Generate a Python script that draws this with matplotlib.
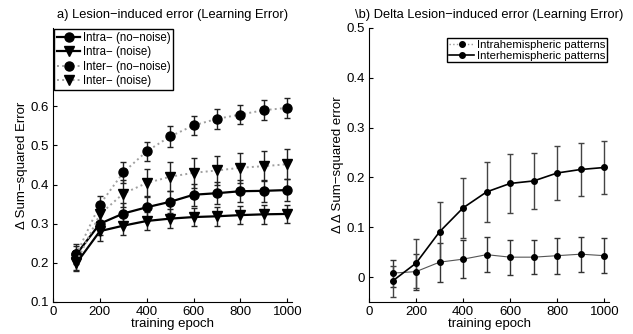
import matplotlib
matplotlib.use("Agg")
import matplotlib.pyplot as plt
from matplotlib.ticker import FuncFormatter

plt.rcParams['font.family'] = ['Liberation Sans', 'DejaVu Sans']

epochs = [100, 200, 300, 400, 500, 600, 700, 800, 900, 1000]

# Panel a
intra_nonoise = [0.222, 0.300, 0.326, 0.342, 0.356, 0.374, 0.378, 0.383, 0.384, 0.386]
intra_nonoise_err = [0.025, 0.028, 0.028, 0.028, 0.028, 0.028, 0.028, 0.028, 0.028, 0.028]
intra_noise = [0.199, 0.281, 0.295, 0.307, 0.313, 0.317, 0.319, 0.322, 0.324, 0.325]
intra_noise_err = [0.02, 0.024, 0.024, 0.024, 0.024, 0.024, 0.024, 0.024, 0.024, 0.024]
inter_nonoise = [0.222, 0.349, 0.431, 0.485, 0.523, 0.551, 0.568, 0.579, 0.590, 0.596]
inter_nonoise_err = [0.02, 0.022, 0.027, 0.025, 0.027, 0.025, 0.025, 0.025, 0.025, 0.025]
inter_noise = [0.203, 0.324, 0.377, 0.404, 0.420, 0.430, 0.436, 0.443, 0.447, 0.452]
inter_noise_err = [0.02, 0.03, 0.035, 0.037, 0.037, 0.038, 0.038, 0.038, 0.038, 0.039]

# Panel b
delta_intra = [0.008, 0.011, 0.030, 0.036, 0.045, 0.040, 0.040, 0.043, 0.046, 0.043]
delta_intra_err = [0.027, 0.036, 0.039, 0.038, 0.035, 0.035, 0.034, 0.036, 0.035, 0.035]
delta_inter = [-0.008, 0.028, 0.091, 0.139, 0.171, 0.188, 0.193, 0.209, 0.216, 0.220]
delta_inter_err = [0.031, 0.049, 0.059, 0.060, 0.060, 0.059, 0.057, 0.054, 0.054, 0.053]

xticks = [0, 200, 400, 600, 800, 1000]

fig = plt.figure(figsize=(6.33, 3.34), dpi=100)
axA = fig.add_axes([53/633, 32/334, 239/633, 274/334])
axB = fig.add_axes([369/633, 32/334, 240/633, 274/334])

def style(ax):
    ax.spines['top'].set_visible(False)
    ax.spines['right'].set_visible(False)
    ax.tick_params(direction='in', length=3, labelsize=9.5, width=0.8, pad=3)
    ax.set_xticks(xticks)
    ax.set_xlim(0, 1020)

fmt = FuncFormatter(lambda v, p: ('%g' % round(v, 3)))

# Panel A
series = [
    (intra_nonoise, intra_nonoise_err, 'o', '-', 'black', 1.6, 'Intra\u2212 (no\u2212noise)'),
    (intra_noise, intra_noise_err, 'v', '-', 'black', 1.6, 'Intra\u2212 (noise)'),
    (inter_nonoise, inter_nonoise_err, 'o', ':', '#a0a0a0', 1.4, 'Inter\u2212 (no\u2212noise)'),
    (inter_noise, inter_noise_err, 'v', ':', '#a0a0a0', 1.4, 'Inter\u2212 (noise)'),
]
handles = []
for vals, errs, mk, ls, col, lw, lab in series:
    axA.errorbar(epochs, vals, yerr=errs, fmt='none', ecolor='#222222', elinewidth=1.0, capsize=2, capthick=1.0, zorder=2)
    h, = axA.plot(epochs, vals, linestyle=ls, color=col, linewidth=lw, marker=mk,
                  markersize=6.5, markerfacecolor='black', markeredgecolor='black', label=lab, zorder=3)
    handles.append(h)
style(axA)
axA.set_ylim(0.1, 0.8)
axA.set_yticks([0.1, 0.2, 0.3, 0.4, 0.5, 0.6])
axA.yaxis.set_major_formatter(fmt)
axA.set_xlabel('training epoch', fontsize=9.5, labelpad=0)
axA.set_ylabel('\u0394 Sum\u2212squared Error', fontsize=9.5, labelpad=2)
axA.set_title('a) Lesion\u2212induced error (Learning Error)', fontsize=9.3, pad=7)
legA = axA.legend(handles=handles, loc='upper left', fontsize=8.3, frameon=True, fancybox=False,
                  edgecolor='black', borderpad=0.25, handlelength=2.0, handletextpad=0.25,
                  labelspacing=0.2, borderaxespad=0.1, framealpha=1)
legA.get_frame().set_linewidth(1.0)

# Panel B
axB.errorbar(epochs, delta_intra, yerr=delta_intra_err, fmt='none', ecolor='#333333', elinewidth=1.0, capsize=2, capthick=1.0, zorder=2)
axB.errorbar(epochs, delta_inter, yerr=delta_inter_err, fmt='none', ecolor='#444444', elinewidth=1.0, capsize=2, capthick=1.0, zorder=2)
axB.plot(epochs, delta_intra, linestyle='-', color='#555555', linewidth=0.8, marker='o', markersize=4,
         markerfacecolor='black', markeredgecolor='black', zorder=3)
h1l, = axB.plot([], [], linestyle=':', color='#999999', linewidth=1.0, marker='o', markersize=4,
                markerfacecolor='black', markeredgecolor='black', label='Intrahemispheric patterns')
h2, = axB.plot(epochs, delta_inter, linestyle='-', color='black', linewidth=1.2, marker='o', markersize=4,
               markerfacecolor='black', markeredgecolor='black', label='Interhemispheric patterns', zorder=3)
style(axB)
axB.set_ylim(-0.05, 0.5)
axB.set_yticks([0, 0.1, 0.2, 0.3, 0.4, 0.5])
axB.yaxis.set_major_formatter(fmt)
axB.set_xlabel('training epoch', fontsize=9.5, labelpad=0)
axB.set_ylabel('\u0394 \u0394 Sum\u2212squared error', fontsize=9.5, labelpad=2)
axB.set_title('\\b) Delta Lesion\u2212induced error (Learning Error)', fontsize=9.3, pad=7)
legB = axB.legend(handles=[h1l, h2], loc='upper right', fontsize=8.2, frameon=True, fancybox=False,
                  edgecolor='black', borderpad=0.15, handlelength=2.2, handletextpad=0.2,
                  labelspacing=0.05, bbox_to_anchor=(0.99, 0.962), borderaxespad=0, framealpha=1)
legB.get_frame().set_linewidth(1.0)

fig.savefig('out.png', dpi=100)
